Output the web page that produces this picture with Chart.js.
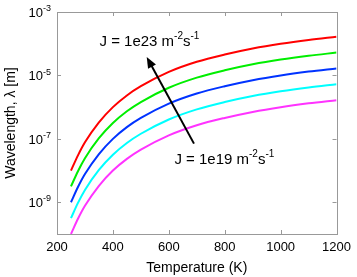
<!DOCTYPE html>
<html>
<head>
<meta charset="utf-8">
<script src="https://cdn.jsdelivr.net/npm/chart.js@4.4.1/dist/chart.umd.min.js"></script>
<style>
  body { margin: 0; background: #fff; }
  #wrap { width: 357px; height: 277px; }
</style>
</head>
<body>
<div id="wrap"><canvas id="chart" width="357" height="277"></canvas></div>
<script>
// temperatura (K) y longitud de onda (m) para cada flujo J
const temps = [250, 275, 300, 350, 400, 450, 500, 600, 700, 800, 900, 1000, 1100, 1200];
const lambdaJ1e23 = [1.0e-8, 3.02e-8, 7.76e-8, 3.31e-7, 1.0e-6, 2.34e-6, 4.57e-6, 1.29e-5, 2.69e-5, 4.57e-5, 7.08e-5, 1.0e-4, 1.32e-4, 1.66e-4];
const lambdaJ1e22 = [3.16e-9, 9.55e-9, 2.45e-8, 1.05e-7, 3.16e-7, 7.41e-7, 1.45e-6, 4.08e-6, 8.51e-6, 1.45e-5, 2.24e-5, 3.16e-5, 4.17e-5, 5.25e-5];
const lambdaJ1e21 = [1.0e-9, 3.02e-9, 7.76e-9, 3.31e-8, 1.0e-7, 2.34e-7, 4.57e-7, 1.29e-6, 2.69e-6, 4.57e-6, 7.08e-6, 1.0e-5, 1.32e-5, 1.66e-5];
const lambdaJ1e20 = [3.16e-10, 9.55e-10, 2.45e-9, 1.05e-8, 3.16e-8, 7.41e-8, 1.45e-7, 4.08e-7, 8.51e-7, 1.45e-6, 2.24e-6, 3.16e-6, 4.17e-6, 5.25e-6];
const lambdaJ1e19 = [1.0e-10, 3.02e-10, 7.76e-10, 3.31e-9, 1.0e-8, 2.34e-8, 4.57e-8, 1.29e-7, 2.69e-7, 4.57e-7, 7.08e-7, 1.0e-6, 1.32e-6, 1.66e-6];

const xTicks = [200, 400, 600, 800, 1000, 1200];
const yTickExp = [-3, -5, -7, -9];

const series = [
    { data: lambdaJ1e23, color: '#ff0000' },
    { data: lambdaJ1e22, color: '#00ee00' },
    { data: lambdaJ1e21, color: '#0033ff' },
    { data: lambdaJ1e20, color: '#00ffff' },
    { data: lambdaJ1e19, color: '#ff33ff' }
];

const FONT = '"Liberation Sans", Arial, sans-serif';

// dibuja texto con superindices: parts = [[texto, esSup], ...]
function drawRich(ctx, parts, x, y, size, align) {
    const supSize = Math.round(size * 0.68);
    let total = 0;
    parts.forEach(p => {
        ctx.font = (p[1] ? supSize : size) + 'px ' + FONT;
        total += ctx.measureText(p[0]).width;
    });
    let cx = x;
    if (align === 'right') cx = x - total;
    if (align === 'center') cx = x - total / 2;
    ctx.textAlign = 'left';
    ctx.textBaseline = 'alphabetic';
    parts.forEach(p => {
        ctx.font = (p[1] ? supSize : size) + 'px ' + FONT;
        ctx.fillText(p[0], cx, p[1] ? y - size * 0.45 : y);
        cx += ctx.measureText(p[0]).width;
    });
}

const decor = {
    id: 'decor',
    afterDatasetsDraw(chart) {
        const ctx = chart.ctx;
        const xs = chart.scales.x, ys = chart.scales.y;
        const a = chart.chartArea;
        ctx.save();
        // caja
        ctx.strokeStyle = '#999';
        ctx.lineWidth = 1;
        ctx.strokeRect(Math.round(a.left) + 0.5, Math.round(a.top) + 0.5,
            Math.round(a.right - a.left), Math.round(a.bottom - a.top));
        ctx.beginPath();
        xTicks.forEach(v => {
            const px = Math.round(xs.getPixelForValue(v)) + 0.5;
            ctx.moveTo(px, a.bottom); ctx.lineTo(px, a.bottom - 4);
            ctx.moveTo(px, a.top); ctx.lineTo(px, a.top + 4);
        });
        yTickExp.forEach(e => {
            const py = Math.round(ys.getPixelForValue(Math.pow(10, e))) + 0.5;
            ctx.moveTo(a.left, py); ctx.lineTo(a.left + 4, py);
            ctx.moveTo(a.right, py); ctx.lineTo(a.right - 4, py);
        });
        ctx.stroke();

        // etiquetas eje y
        ctx.fillStyle = '#000';
        yTickExp.forEach(e => {
            const py = ys.getPixelForValue(Math.pow(10, e));
            drawRich(ctx, [['10', 0], [String(e), 1]], a.left - 6, py + 5, 13, 'right');
        });

        // titulos
        ctx.font = '14px ' + FONT;
        ctx.textAlign = 'center';
        ctx.textBaseline = 'middle';
        ctx.fillText('Temperature (K)', (a.left + a.right) / 2, 268);
        ctx.save();
        ctx.translate(11, (a.top + a.bottom) / 2);
        ctx.rotate(-Math.PI / 2);
        ctx.fillText('Wavelength, \u03bb [m]', 0, 0);
        ctx.restore();

        // flecha
        const x0 = xs.getPixelForValue(690), y0 = ys.getPixelForValue(Math.pow(10, -7.15));
        const x1 = xs.getPixelForValue(521), y1 = ys.getPixelForValue(Math.pow(10, -4.42));
        const ang = Math.atan2(y1 - y0, x1 - x0);
        ctx.strokeStyle = '#000';
        ctx.fillStyle = '#000';
        ctx.lineWidth = 2;
        ctx.beginPath();
        ctx.moveTo(x0, y0);
        ctx.lineTo(x1 - 8 * Math.cos(ang), y1 - 8 * Math.sin(ang));
        ctx.stroke();
        ctx.beginPath();
        ctx.moveTo(x1, y1);
        ctx.lineTo(x1 - 11 * Math.cos(ang) + 4.5 * Math.sin(ang), y1 - 11 * Math.sin(ang) - 4.5 * Math.cos(ang));
        ctx.lineTo(x1 - 11 * Math.cos(ang) - 4.5 * Math.sin(ang), y1 - 11 * Math.sin(ang) + 4.5 * Math.cos(ang));
        ctx.closePath();
        ctx.fill();

        // textos J
        drawRich(ctx, [['J = 1e23 m', 0], ['-2', 1], ['s', 0], ['-1', 1]],
            xs.getPixelForValue(352), ys.getPixelForValue(Math.pow(10, -3.89)) + 6, 15, 'left');
        drawRich(ctx, [['J = 1e19 m', 0], ['-2', 1], ['s', 0], ['-1', 1]],
            xs.getPixelForValue(620), ys.getPixelForValue(Math.pow(10, -7.59)) + 6, 15, 'left');
        ctx.restore();
    }
};

new Chart(document.getElementById('chart'), {
    type: 'line',
    data: {
        datasets: series.map(s => ({
            data: temps.map((t, i) => ({ x: t, y: s.data[i] })),
            borderColor: s.color,
            backgroundColor: s.color,
            borderWidth: 2,
            pointRadius: 0,
            cubicInterpolationMode: 'monotone',
            fill: false
        }))
    },
    options: {
        responsive: false,
        animation: false,
        layout: { padding: { top: 12, right: 18, left: 0, bottom: 0 } },
        plugins: { legend: { display: false }, tooltip: { enabled: false } },
        scales: {
            x: {
                type: 'linear',
                min: 200,
                max: 1200,
                grid: { display: false, drawTicks: false },
                border: { display: false },
                afterBuildTicks: s => { s.ticks = xTicks.map(v => ({ value: v })); },
                afterFit: s => { s.height = 43; },
                ticks: {
                    color: '#000',
                    padding: 6,
                    maxRotation: 0,
                    font: { family: FONT, size: 13 },
                    callback: v => String(v)
                }
            },
            y: {
                type: 'logarithmic',
                min: 1e-10,
                max: 1e-3,
                grid: { display: false, drawTicks: false },
                border: { display: false },
                ticks: { display: false },
                afterFit: s => { s.width = 57; }
            }
        }
    },
    plugins: [decor]
});
</script>
</body>
</html>
